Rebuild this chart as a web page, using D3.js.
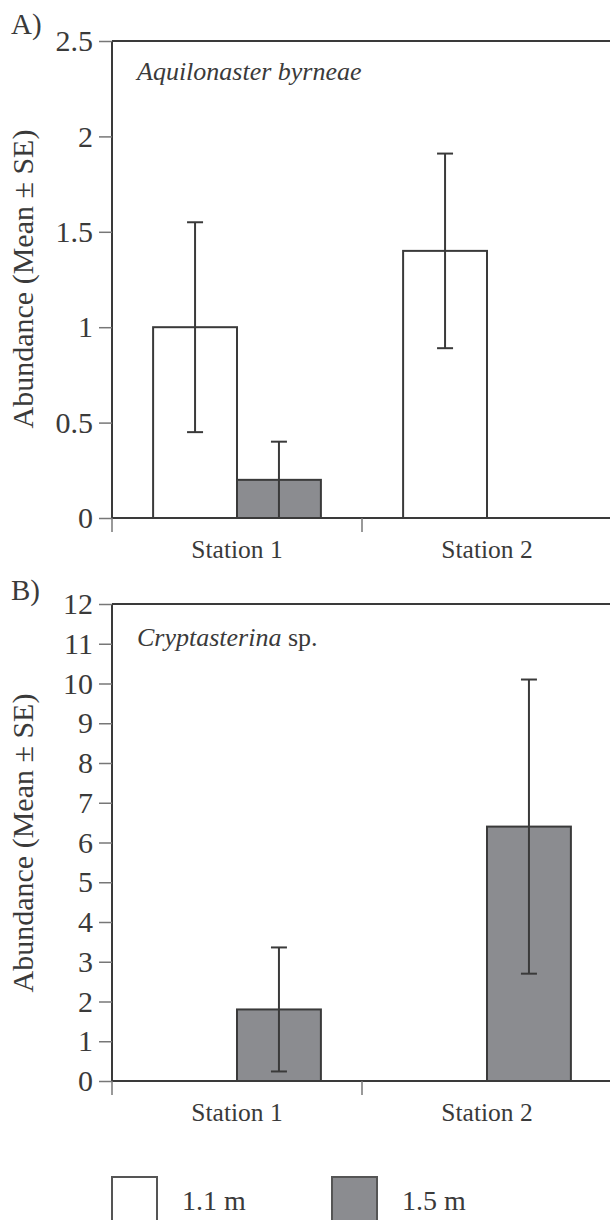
<!DOCTYPE html>
<html>
<head>
<meta charset="utf-8">
<script src="https://cdn.jsdelivr.net/npm/d3@7"></script>
<style>
  body { margin: 0; background: #fff; }
  svg { display: block; }
  svg text { font-family: "Liberation Serif", "DejaVu Serif", serif !important; fill: #3a3a3a; }
</style>
</head>
<body>
<svg id="chart"></svg>
<script>
// data
const stations = ["Station 1", "Station 2"];
const depths = ["1.1 m", "1.5 m"];

// A) Aquilonaster byrneae
const aquiMean11 = [1.0, 1.4];
const aquiSE11 = [0.55, 0.51];
const aquiMean15 = [0.2, 0];
const aquiSE15 = [0.2, null];
const aquiTicks = [0, 0.5, 1, 1.5, 2, 2.5];

// B) Cryptasterina sp.
const cryptMean11 = [0, 0];
const cryptSE11 = [null, null];
const cryptMean15 = [1.8, 6.4];
const cryptSE15 = [1.56, 3.7];
const cryptTicks = [0, 1, 2, 3, 4, 5, 6, 7, 8, 9, 10, 11, 12];

const width = 610, height = 1220;
const fills = { "1.1 m": "#ffffff", "1.5 m": "#8b8c90" };
const lineColor = "#3a3a3a";
const serif = "'Liberation Serif', 'DejaVu Serif', serif";

const svg = d3.select("#chart").attr("width", width).attr("height", height)
  .attr("font-family", serif);

function panel(opts) {
  const g = svg.append("g");
  const left = 112, right = 612;

  const x0 = d3.scaleBand().domain(stations).range([left, right]).padding(0);
  const x1 = d3.scaleBand().domain(depths).range([0, x0.bandwidth()])
    .paddingInner(0).paddingOuter(0.49);
  const y = d3.scaleLinear().domain(opts.domain).range([opts.bottom, opts.top]);

  // build rows
  const rows = [];
  stations.forEach((s, i) => {
    rows.push({ station: s, depth: "1.1 m", mean: opts.m11[i], se: opts.se11[i] });
    rows.push({ station: s, depth: "1.5 m", mean: opts.m15[i], se: opts.se15[i] });
  });

  // bars
  g.selectAll("rect.bar")
    .data(rows.filter((d) => d.mean > 0))
    .enter()
    .append("rect")
    .attr("class", "bar")
    .attr("x", (d) => x0(d.station) + x1(d.depth))
    .attr("y", (d) => y(d.mean))
    .attr("width", x1.bandwidth())
    .attr("height", (d) => y(0) - y(d.mean))
    .attr("fill", (d) => fills[d.depth])
    .attr("stroke", lineColor)
    .attr("stroke-width", 2);

  // error bars
  const eb = g.selectAll("g.err")
    .data(rows.filter((d) => d.se != null))
    .enter()
    .append("g")
    .attr("class", "err")
    .attr("transform", (d) => `translate(${x0(d.station) + x1(d.depth) + x1.bandwidth() / 2},0)`);
  eb.append("line")
    .attr("y1", (d) => y(d.mean + d.se))
    .attr("y2", (d) => y(Math.max(0, d.mean - d.se)))
    .attr("stroke", lineColor).attr("stroke-width", 2);
  eb.append("line")
    .attr("x1", -8).attr("x2", 8)
    .attr("y1", (d) => y(d.mean + d.se)).attr("y2", (d) => y(d.mean + d.se))
    .attr("stroke", lineColor).attr("stroke-width", 2);
  eb.filter((d) => d.mean - d.se > 0)
    .append("line")
    .attr("x1", -8).attr("x2", 8)
    .attr("y1", (d) => y(d.mean - d.se)).attr("y2", (d) => y(d.mean - d.se))
    .attr("stroke", lineColor).attr("stroke-width", 2);

  // y axis
  const yAxis = g.append("g")
    .attr("transform", `translate(${left},0)`)
    .call(d3.axisLeft(y).tickValues(opts.ticks).tickSize(13).tickPadding(6).tickFormat(d3.format("")));
  yAxis.attr("font-family", serif);
  yAxis.select(".domain").attr("stroke", lineColor).attr("stroke-width", 2)
    .attr("d", `M0,${opts.top}V${opts.bottom}`);
  yAxis.selectAll(".tick line").attr("stroke", "#777").attr("stroke-width", 1.5);
  yAxis.selectAll(".tick text").style("font-size", "30px").attr("fill", "#3a3a3a");

  // x axis
  const xAxis = g.append("g")
    .attr("transform", `translate(0,${opts.bottom})`)
    .call(d3.axisBottom(x0).tickSize(0).tickPadding(22));
  xAxis.attr("font-family", serif);
  xAxis.select(".domain").attr("stroke", lineColor).attr("stroke-width", 2)
    .attr("d", `M${left},0H${right}`);
  xAxis.selectAll(".tick text").style("font-size", "25.5px").attr("fill", "#3a3a3a");
  // category boundary ticks
  g.selectAll("line.xsep")
    .data([left, ...stations.map((s) => x0(s) + x0.bandwidth())])
    .enter()
    .append("line")
    .attr("class", "xsep")
    .attr("x1", (d) => d).attr("x2", (d) => d)
    .attr("y1", opts.bottom).attr("y2", opts.bottom + 14)
    .attr("stroke", "#777").attr("stroke-width", 1.5);

  // top border
  g.append("line")
    .attr("x1", left).attr("x2", right)
    .attr("y1", opts.top).attr("y2", opts.top)
    .attr("stroke", lineColor).attr("stroke-width", 2);

  // panel letter
  g.append("text").attr("x", 11).attr("y", opts.letterY)
    .style("font-size", "29px").text(opts.letter);

  // species name
  const sp = g.append("text").attr("x", 137).attr("y", opts.speciesY)
    .style("font-size", "26px");
  sp.append("tspan").style("font-style", "italic").text(opts.species);
  if (opts.suffix) sp.append("tspan").text(opts.suffix);

  // y title
  g.append("text")
    .attr("transform", `translate(33,${opts.titleY}) rotate(-90)`)
    .attr("text-anchor", "middle")
    .style("font-size", "30px")
    .text("Abundance (Mean ± SE)");
}

panel({
  letter: "A)", letterY: 34,
  species: "Aquilonaster byrneae", suffix: null, speciesY: 80,
  domain: [0, 2.5], ticks: aquiTicks, top: 41, bottom: 518, titleY: 279,
  m11: aquiMean11, se11: aquiSE11, m15: aquiMean15, se15: aquiSE15
});

panel({
  letter: "B)", letterY: 600,
  species: "Cryptasterina", suffix: " sp.", speciesY: 646,
  domain: [0, 12], ticks: cryptTicks, top: 604, bottom: 1081, titleY: 843,
  m11: cryptMean11, se11: cryptSE11, m15: cryptMean15, se15: cryptSE15
});

// legend
const legend = svg.append("g");
const legendX = d3.scaleOrdinal().domain(depths).range([112, 332]);
const items = legend.selectAll("g").data(depths).enter().append("g")
  .attr("transform", (d) => `translate(${legendX(d)},1177)`);
items.append("rect")
  .attr("width", 45).attr("height", 50)
  .attr("fill", (d) => fills[d])
  .attr("stroke", "#555").attr("stroke-width", 2);
items.append("text")
  .attr("x", 70).attr("y", 33)
  .style("font-size", "28px")
  .text((d) => d);
</script>
</body>
</html>
